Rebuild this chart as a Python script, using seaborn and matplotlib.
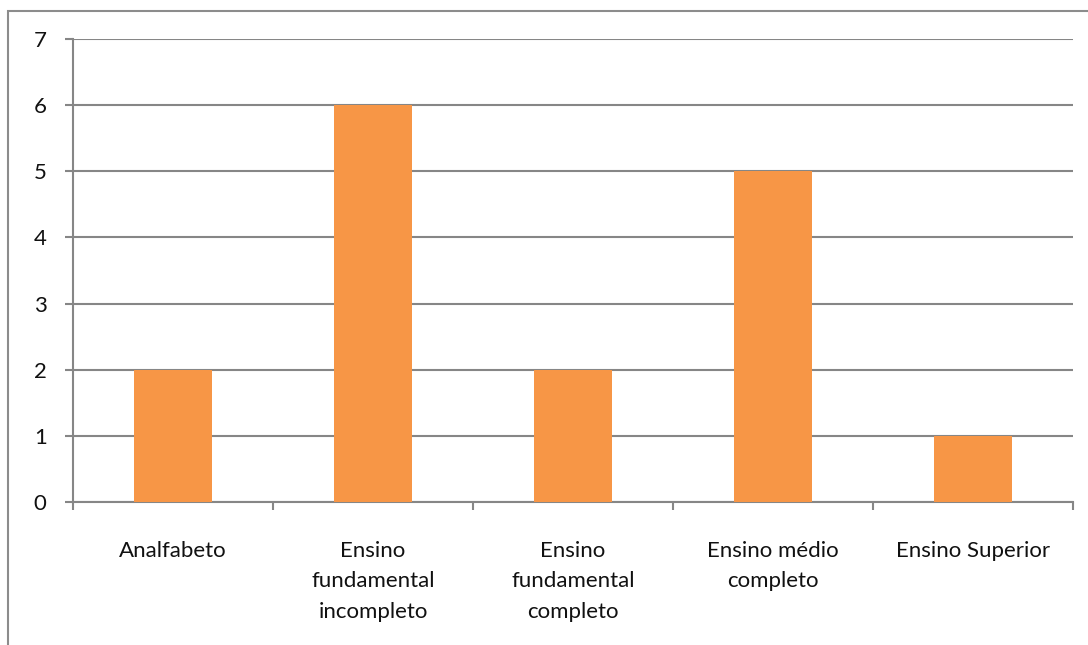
import matplotlib
matplotlib.use('Agg')
import matplotlib.pyplot as plt
import seaborn as sns
import pandas as pd
import numpy as np
from matplotlib.patches import Rectangle

categorias = ['Analfabeto', 'Ensino\nfundamental\nincompleto', 'Ensino\nfundamental\ncompleto',
              'Ensino médio\ncompleto', 'Ensino Superior']
valores = [2, 6, 2, 5, 1]

sns.set_style('white')
plt.rcParams['font.family'] = ['Lato', 'DejaVu Sans']

df = pd.DataFrame({'cat': categorias, 'val': valores})

fig = plt.figure(figsize=(10.88, 6.45), dpi=100)
ax = fig.add_axes([73/1088, 1-502/645, 1000/1088, 463/645])

sns.barplot(data=df, x='cat', y='val', color='#F79646', width=0.39, saturation=1,
            edgecolor='none', linewidth=0, ax=ax, zorder=3)

grid = '#868686'
ax.set_ylim(0, 7)
ax.set_xlim(-0.5, len(categorias) - 0.5)
ax.set_yticks(range(0, 8))
ax.yaxis.grid(True, color=grid, linewidth=1.5, zorder=0)
ax.set_axisbelow(True)
for s in ['top', 'right']:
    ax.spines[s].set_visible(False)
for s in ['left', 'bottom']:
    ax.spines[s].set_color(grid)
    ax.spines[s].set_linewidth(1.5)
ax.tick_params(axis='y', left=True, length=6, width=1.5, color=grid, labelsize=16, pad=13,
               labelcolor='#111111')
ax.set_xticks(range(len(categorias)))
ax.set_xticklabels(categorias, fontsize=16, linespacing=1.65, va='top', color='#111111')
ax.set_xticks(np.arange(-0.5, len(categorias)), minor=True)
ax.tick_params(axis='x', which='major', bottom=False, length=0, pad=28)
ax.tick_params(axis='x', which='minor', bottom=True, length=6, width=1.5, color=grid)
ax.set_xlabel('')
ax.set_ylabel('')

# moldura do grafico
fig.patches.append(Rectangle((8/1088, -0.1), 1.2, 1 - 11/645 + 0.1, transform=fig.transFigure,
                             fill=False, edgecolor='#8c8c8c', linewidth=1.5))

fig.savefig('out.png', dpi=100)
